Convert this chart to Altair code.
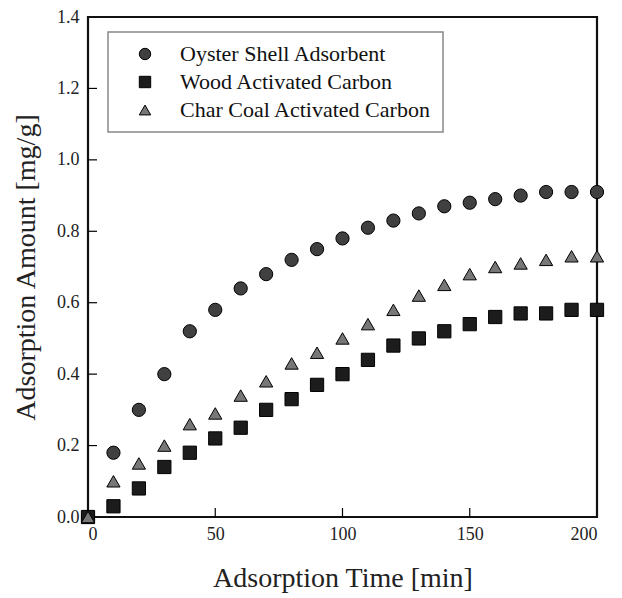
import altair as alt
import pandas as pd

time_min = [0, 10, 20, 30, 40, 50, 60, 70, 80, 90, 100, 110, 120, 130, 140, 150, 160, 170, 180, 190, 200]
oyster = [0.0, 0.18, 0.30, 0.40, 0.52, 0.58, 0.64, 0.68, 0.72, 0.75, 0.78, 0.81, 0.83, 0.85, 0.87, 0.88, 0.89, 0.90, 0.91, 0.91, 0.91]
wood = [0.0, 0.03, 0.08, 0.14, 0.18, 0.22, 0.25, 0.30, 0.33, 0.37, 0.40, 0.44, 0.48, 0.50, 0.52, 0.54, 0.56, 0.57, 0.57, 0.58, 0.58]
charcoal = [0.0, 0.10, 0.15, 0.20, 0.26, 0.29, 0.34, 0.38, 0.43, 0.46, 0.50, 0.54, 0.58, 0.62, 0.65, 0.68, 0.70, 0.71, 0.72, 0.73, 0.73]
series_names = ["Oyster Shell Adsorbent", "Wood Activated Carbon", "Char Coal Activated Carbon"]
series_fills = ["#404040", "#1c1c1c", "#777777"]
series_shapes = ["circle", "square", "triangle-up"]
x_ticks = [0, 50, 100, 150, 200]
y_ticks = [0.0, 0.2, 0.4, 0.6, 0.8, 1.0, 1.2, 1.4]

rows = []
for name, vals in zip(series_names, [oyster, wood, charcoal]):
    for t, v in zip(time_min, vals):
        rows.append({"time": t, "amount": v, "series": name})
df = pd.DataFrame(rows)

W, H = 509, 500
FONT = "Liberation Serif"

xs = alt.Scale(domain=[0, 200], nice=False)
ys = alt.Scale(domain=[0, 1.4], nice=False)

axis_common = dict(tickSize=0, grid=False, domain=False,
                   labelFont=FONT, titleFont=FONT, labelFontSize=18, titleFontSize=28,
                   titleFontWeight="normal", labelColor="#222222", titleColor="#222222")

points = alt.Chart(df).mark_point(filled=True, size=175, stroke="black", strokeWidth=1, opacity=1, clip=False).encode(
    x=alt.X("time:Q", scale=xs, title="Adsorption Time [min]",
            axis=alt.Axis(values=x_ticks, labelPadding=8, format="d", titlePadding=21, **axis_common)),
    y=alt.Y("amount:Q", scale=ys, title="Adsorption Amount [mg/g]",
            axis=alt.Axis(values=y_ticks, labelPadding=9, format=".1f", titlePadding=16, **axis_common)),
    color=alt.Color("series:N", sort=series_names,
                    scale=alt.Scale(domain=series_names, range=series_fills),
                    legend=alt.Legend(title=None, orient="none", legendX=20, legendY=15,
                                      fillColor="white", strokeColor="#888888",
                                      padding=11, symbolOffset=15, labelOffset=24, rowPadding=6,
                                      labelFontSize=22, labelFont=FONT, labelColor="#111111",
                                      symbolSize=130, symbolStrokeColor="black", symbolStrokeWidth=1,
                                      labelLimit=400)),
    shape=alt.Shape("series:N", sort=series_names,
                    scale=alt.Scale(domain=series_names, range=series_shapes)),
)

xt = pd.DataFrame({"t": x_ticks[1:-1]})
yt = pd.DataFrame({"v": y_ticks[1:-1]})

xtick_marks = alt.Chart(xt).mark_rule(color="black", strokeWidth=1.2).encode(
    x=alt.X("t:Q", scale=xs), y=alt.value(H), y2=alt.value(H - 9))
ytick_marks = alt.Chart(yt).mark_rule(color="black", strokeWidth=1.2).encode(
    y=alt.Y("v:Q", scale=ys), x=alt.value(0), x2=alt.value(9))

chart = alt.layer(xtick_marks, ytick_marks, points).properties(
    width=W, height=H,
    autosize=alt.AutoSizeParams(type="none"),
    padding={"left": 80, "top": 9, "right": 17, "bottom": 80},
    background="white",
).configure_view(stroke="#111111", strokeWidth=2.2).configure_legend(strokeWidth=1.5)

chart.save("out.html", embed_options={"renderer": "svg", "actions": False})
